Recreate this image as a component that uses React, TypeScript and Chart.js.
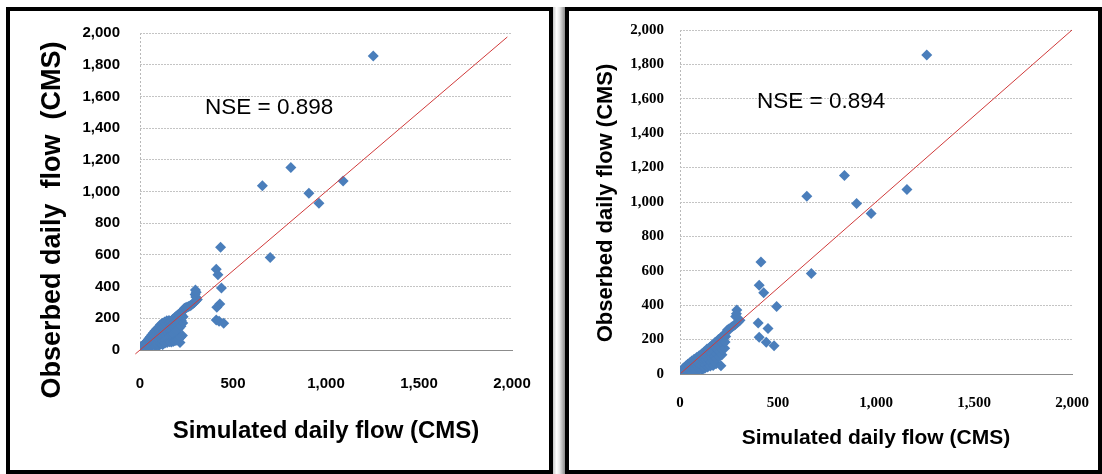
import React, { useEffect, useRef } from "react";
import { Chart, registerables } from "chart.js";

Chart.register(...registerables);

// Axis ranges and tick steps (CMS)
const axisMin = 0;
const axisMax = 2000;
const simulatedStep = 500;
const observedStep = 200;

// Panel captions
const simulatedTitle = "Simulated daily flow (CMS)";
const leftObservedTitle = "Obserbed daily  flow  (CMS)";
const rightObservedTitle = "Obserbed daily flow (CMS)";
const leftNse = "NSE = 0.898";
const rightNse = "NSE = 0.894";

// 1:1 reference line end points
const leftOneToOne: [number, number][] = [[-25, -25], [1975, 1975]];
const rightOneToOne: [number, number][] = [[5, 5], [2000, 2000]];

// [simulated, observed] daily flow pairs, first calibration run
const leftFlows: [number, number][] = [
  [3, 12], [6, 4], [8, 18], [10, 8], [12, 26], [14, 2], [16, 14], [18, 32], [20, 6], [22, 20],
  [24, 38], [26, 12], [28, 28], [30, 44], [32, 4], [34, 20], [36, 52], [38, 34], [40, 12], [42, 62],
  [44, 26], [46, 44], [48, 72], [50, 16], [52, 36], [54, 56], [56, 84], [58, 24], [60, 46], [62, 66],
  [64, 96], [66, 30], [68, 54], [70, 78], [72, 108], [74, 38], [76, 62], [78, 88], [80, 120], [82, 24],
  [84, 46], [86, 70], [88, 98], [90, 132], [92, 32], [94, 56], [96, 82], [98, 110], [100, 142], [102, 28],
  [104, 64], [106, 92], [108, 122], [110, 160], [112, 40], [114, 72], [116, 100], [118, 135], [120, 168], [122, 34],
  [124, 52], [126, 84], [128, 112], [130, 148], [132, 176], [134, 44], [136, 64], [138, 94], [140, 124], [142, 160],
  [144, 184], [146, 48], [148, 76], [150, 106], [152, 136], [154, 170], [156, 186], [158, 52], [160, 86], [162, 116],
  [164, 146], [166, 180], [168, 50], [170, 96], [172, 128], [174, 158], [176, 194], [178, 54], [180, 106], [182, 138],
  [184, 170], [186, 204], [188, 58], [190, 116], [192, 150], [194, 182], [196, 214], [198, 62], [200, 126], [202, 160],
  [204, 194], [206, 224], [208, 70], [210, 138], [212, 172], [214, 206], [216, 234], [218, 80], [220, 150], [222, 186],
  [224, 220], [226, 244], [228, 92], [230, 170], [232, 210], [234, 250], [238, 262], [244, 266], [252, 270], [260, 274],
  [268, 278], [276, 284], [284, 292], [292, 300], [300, 310], [308, 318], [300, 334], [296, 350], [302, 364], [298, 378],
  [215, 48], [410, 509], [419, 474], [433, 648], [438, 391], [429, 291], [413, 270], [410, 189], [425, 182], [450, 168],
  [700, 583], [658, 1036], [811, 1152], [908, 989], [962, 926], [1092, 1067], [1254, 1855],
];

// [simulated, observed] daily flow pairs, second calibration run
const rightFlows: [number, number][] = [
  [2, 6], [5, 14], [8, 2], [10, 22], [12, 10], [15, 30], [18, 4], [20, 18], [22, 38], [25, 10],
  [28, 26], [30, 46], [32, 6], [35, 20], [38, 36], [40, 56], [42, 12], [45, 28], [48, 46], [50, 66],
  [52, 16], [55, 34], [58, 54], [60, 76], [62, 10], [65, 26], [68, 44], [70, 64], [72, 86], [75, 18],
  [78, 36], [80, 56], [82, 78], [85, 96], [88, 22], [90, 44], [92, 66], [95, 88], [98, 106], [100, 28],
  [103, 50], [106, 74], [108, 96], [110, 116], [113, 24], [116, 42], [118, 64], [120, 86], [122, 108], [124, 130],
  [127, 34], [130, 56], [132, 80], [134, 102], [136, 124], [138, 146], [141, 40], [144, 62], [146, 86], [148, 110],
  [150, 134], [152, 156], [155, 46], [158, 70], [160, 96], [162, 120], [164, 146], [166, 170], [169, 50], [172, 76],
  [174, 102], [176, 128], [178, 156], [180, 184], [184, 60], [187, 88], [190, 116], [192, 144], [194, 172], [196, 200],
  [200, 100], [203, 130], [206, 160], [208, 190], [210, 214], [214, 112], [217, 144], [220, 176], [222, 206], [224, 228],
  [228, 150], [230, 186], [233, 218], [236, 242], [242, 256], [250, 262], [258, 268], [266, 274], [274, 280], [282, 288],
  [290, 296], [298, 304], [306, 312], [284, 334], [288, 350], [290, 372],
  [209, 48], [404, 516], [427, 473], [413, 651], [493, 392], [399, 296], [449, 265], [404, 213], [440, 184], [480, 164],
  [670, 585], [647, 1034], [839, 1154], [901, 991], [975, 933], [1158, 1072], [1259, 1855],
];

const markerBlue = "#4a7ebb";
const lineRed = "#d03a3a";
const sansFamily = "'Liberation Sans', Arial, sans-serif";

type PanelSpec = {
  flows: [number, number][];
  line: [number, number][];
  nse: string;
  nseAt: [number, number];
  nseFont: string;
  yTitle: string;
  yTitleAt: [number, number];
  yTitleFont: string;
  width: number;
  height: number;
  yAxisWidth: number;
  xAxisHeight: number;
  padTop: number;
  padRight: number;
  tickFont: { family: string; size: number; weight: string };
  yTickPad: number;
  xTickPad: number;
  xTitleSize: number;
  xTitlePad: number;
};

// Goodness-of-fit caption, anchored in data space
const nseLabel = {
  id: "nseLabel",
  afterDatasetsDraw(chart: any, _args: any, opts: any) {
    const { ctx, scales } = chart;
    ctx.save();
    ctx.font = opts.font;
    ctx.fillStyle = "#000";
    ctx.textAlign = "left";
    ctx.textBaseline = "middle";
    ctx.fillText(opts.text, scales.x.getPixelForValue(opts.at[0]), scales.y.getPixelForValue(opts.at[1]));
    ctx.restore();
  },
};

// Rotated vertical axis caption
const sideTitle = {
  id: "sideTitle",
  afterDraw(chart: any, _args: any, opts: any) {
    const { ctx } = chart;
    ctx.save();
    ctx.translate(opts.at[0], opts.at[1]);
    ctx.rotate(-Math.PI / 2);
    ctx.font = opts.font;
    ctx.fillStyle = "#000";
    ctx.textAlign = "center";
    ctx.textBaseline = "middle";
    ctx.fillText(opts.text, 0, 0);
    ctx.restore();
  },
};

const fmt = (v: number | string) => Number(v).toLocaleString("en-US");

// Let the layout padding alone decide where the plot area sits
const clearScalePadding = (s: any) => {
  s.paddingTop = 0;
  s.paddingBottom = 0;
  s.paddingLeft = 0;
  s.paddingRight = 0;
};

function Panel({ spec }: { spec: PanelSpec }) {
  const ref = useRef<HTMLCanvasElement>(null);
  useEffect(() => {
    if (!ref.current) return;
    const chart = new Chart(ref.current, {
      type: "scatter",
      data: {
        datasets: [
          {
            type: "line",
            data: spec.line.map(([x, y]) => ({ x, y })),
            borderColor: lineRed,
            borderWidth: 1,
            pointRadius: 0,
            fill: false,
            clip: false,
          } as any,
          {
            data: spec.flows.map(([x, y]) => ({ x, y })),
            pointStyle: "rectRot",
            pointRadius: 5.5,
            backgroundColor: markerBlue,
            borderColor: markerBlue,
            borderWidth: 0,
          },
        ],
      },
      options: {
        responsive: false,
        animation: false,
        devicePixelRatio: 1,
        layout: { padding: { top: spec.padTop, right: spec.padRight, left: 0, bottom: 0 } },
        plugins: {
          legend: { display: false },
          tooltip: { enabled: false },
          nseLabel: { text: spec.nse, at: spec.nseAt, font: spec.nseFont },
          sideTitle: { text: spec.yTitle, at: spec.yTitleAt, font: spec.yTitleFont },
        } as any,
        scales: {
          x: {
            type: "linear",
            min: axisMin,
            max: axisMax,
            afterFit: (s: any) => {
              s.height = spec.xAxisHeight;
              clearScalePadding(s);
            },
            ticks: {
              stepSize: simulatedStep,
              color: "#000",
              font: spec.tickFont as any,
              padding: spec.xTickPad,
              maxRotation: 0,
              callback: (v: any) => fmt(v),
            },
            grid: {
              drawTicks: false,
              color: (c: any) => (c.index === 0 ? "#b8b8b8" : "rgba(0,0,0,0)"),
              lineWidth: 1,
            },
            border: { display: true, color: "#8c8c8c", width: 1, dash: [2, 2] },
            title: {
              display: true,
              text: simulatedTitle,
              color: "#000",
              font: { family: sansFamily, size: spec.xTitleSize, weight: "bold" },
              padding: { top: 0, bottom: spec.xTitlePad },
            },
          },
          y: {
            type: "linear",
            min: axisMin,
            max: axisMax,
            afterFit: (s: any) => {
              s.width = spec.yAxisWidth;
              clearScalePadding(s);
            },
            ticks: {
              stepSize: observedStep,
              color: "#000",
              font: spec.tickFont as any,
              padding: spec.yTickPad,
              callback: (v: any) => fmt(v),
            },
            grid: {
              drawTicks: false,
              color: (c: any) => (c.index === 0 ? "rgba(0,0,0,0)" : "#c4c4c4"),
              lineWidth: 1,
            },
            border: { display: false, dash: [2, 1] },
            title: { display: false },
          },
        },
      },
      plugins: [nseLabel, sideTitle],
    });
    return () => chart.destroy();
  }, [spec]);
  return <canvas ref={ref} width={spec.width} height={spec.height} style={{ display: "block" }} />;
}

const leftSpec: PanelSpec = {
  flows: leftFlows,
  line: leftOneToOne,
  nse: leftNse,
  nseAt: [350, 1530],
  nseFont: `22.5px ${sansFamily}`,
  yTitle: leftObservedTitle,
  yTitleAt: [43, 209],
  yTitleFont: `bold 27px ${sansFamily}`,
  width: 539,
  height: 459,
  yAxisWidth: 130,
  xAxisHeight: 120,
  padTop: 22,
  padRight: 37,
  tickFont: { family: sansFamily, size: 15, weight: "bold" },
  yTickPad: 20,
  xTickPad: 25,
  xTitleSize: 24,
  xTitlePad: 24,
};

const rightSpec: PanelSpec = {
  flows: rightFlows,
  line: rightOneToOne,
  nse: rightNse,
  nseAt: [393, 1581],
  nseFont: `22.5px ${sansFamily}`,
  yTitle: rightObservedTitle,
  yTitleAt: [37, 192],
  yTitleFont: `bold 22px ${sansFamily}`,
  width: 528,
  height: 459,
  yAxisWidth: 111,
  xAxisHeight: 96,
  padTop: 19,
  padRight: 25,
  tickFont: { family: "'Liberation Serif', 'Times New Roman', serif", size: 15, weight: "bold" },
  yTickPad: 16,
  xTickPad: 20,
  xTitleSize: 21,
  xTitlePad: 19,
};

const frame: React.CSSProperties = {
  position: "absolute",
  top: 7,
  height: 467,
  boxSizing: "border-box",
  border: "4px solid #000",
  background: "#fff",
};

export default function App() {
  return (
    <div style={{ position: "absolute", left: 0, top: 0, width: 1102, height: 474, background: "#fff", overflow: "hidden" }}>
      <div style={{ ...frame, left: 6, width: 547 }}>
        <Panel spec={leftSpec} />
      </div>
      <div
        style={{
          position: "absolute",
          left: 553,
          top: 7,
          width: 12,
          height: 467,
          background: "linear-gradient(to right, #c8c8c8, #ffffff 30%, #e6e6e6 55%, #8a8a8a)",
        }}
      />
      <div style={{ ...frame, left: 565, width: 537 }}>
        <Panel spec={rightSpec} />
      </div>
    </div>
  );
}
